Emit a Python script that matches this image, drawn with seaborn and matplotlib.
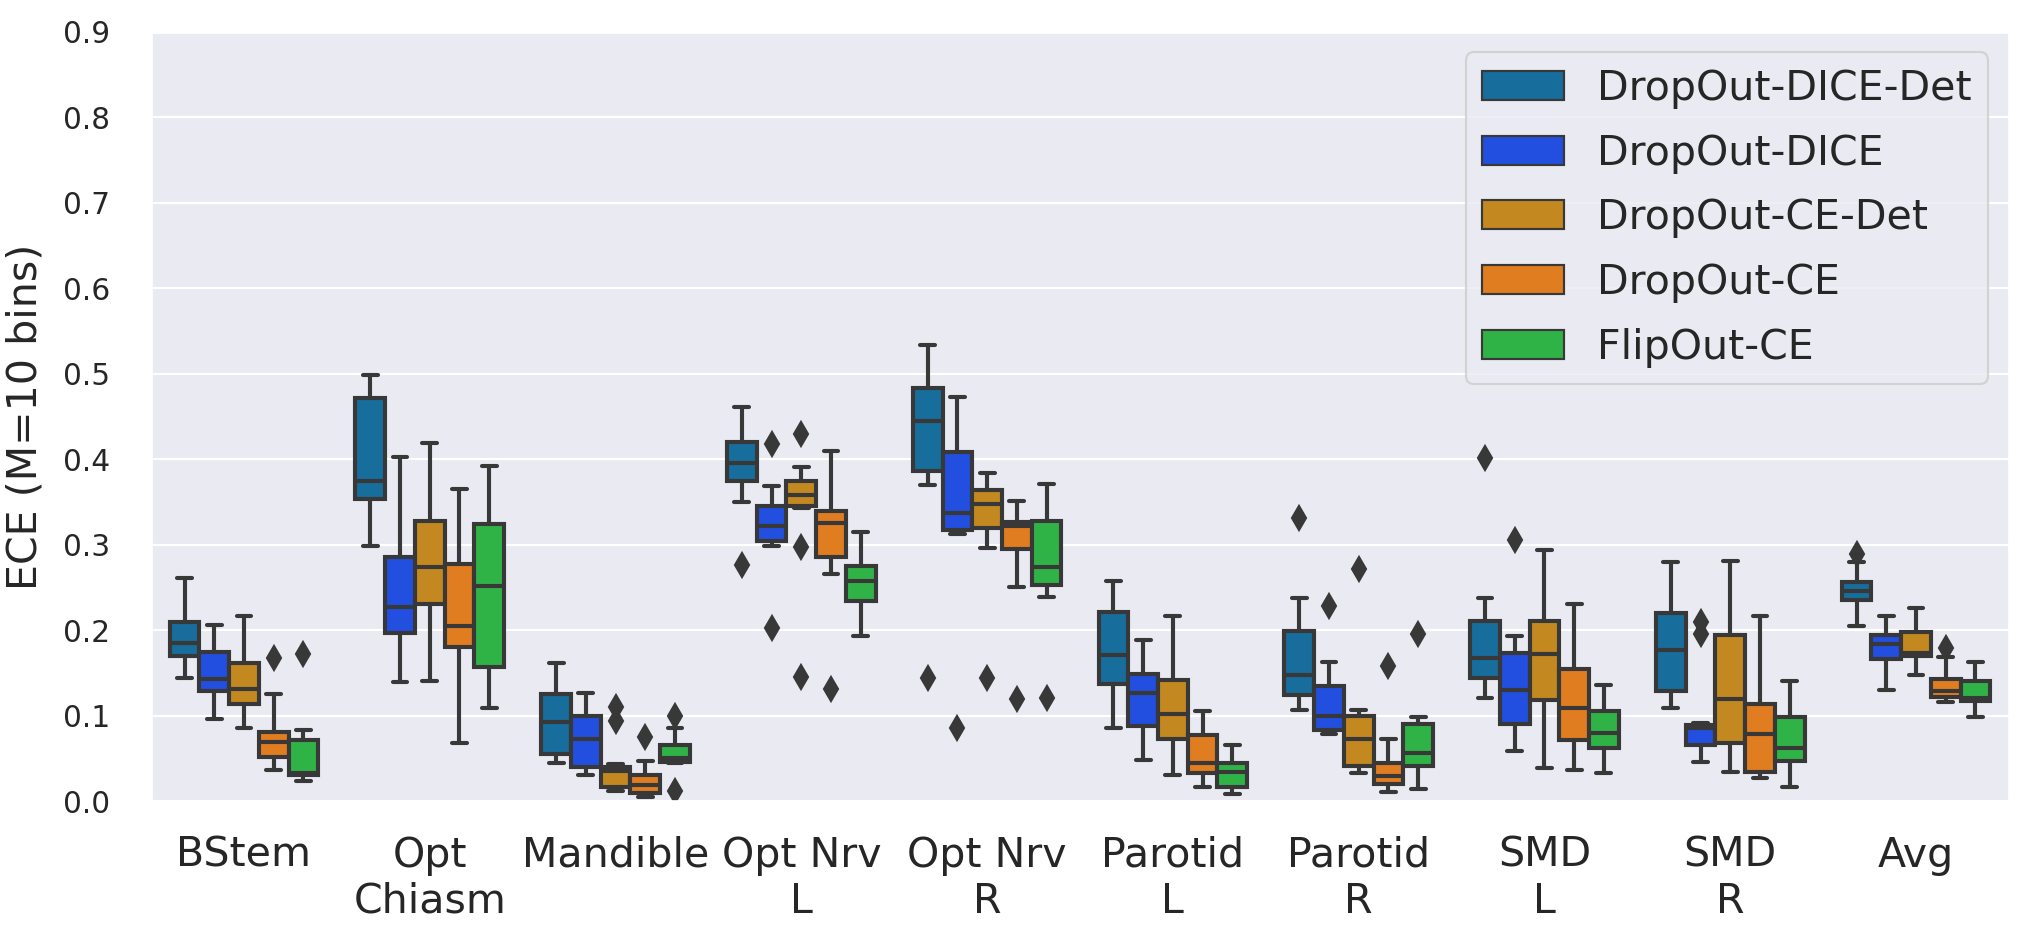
import numpy as np
import pandas as pd
import seaborn as sns
import matplotlib
matplotlib.use("Agg")
import matplotlib.pyplot as plt

organs = ["BStem", "Opt\nChiasm", "Mandible", "Opt Nrv\nL", "Opt Nrv\nR",
          "Parotid\nL", "Parotid\nR", "SMD\nL", "SMD\nR", "Avg"]
methods = ["DropOut-DICE-Det", "DropOut-DICE", "DropOut-CE-Det", "DropOut-CE", "FlipOut-CE"]

# (whisker low, q1, median, q3, whisker high) per organ
dice_det_box = [(.144, .170, .185, .209, .261), (.299, .354, .375, .472, .498), (.044, .055, .093, .125, .162),
                (.350, .375, .396, .420, .461), (.370, .386, .445, .483, .534), (.086, .137, .171, .221, .258),
                (.106, .124, .148, .199, .237), (.121, .144, .167, .211, .238), (.109, .129, .177, .220, .280),
                (.205, .235, .246, .256, .280)]
dice_det_out = [[], [], [], [.276], [.144], [], [.331], [.401], [], [.289]]

dice_box = [(.096, .129, .143, .174, .206), (.139, .197, .227, .286, .403), (.030, .040, .073, .099, .127),
            (.299, .304, .322, .345, .369), (.313, .317, .337, .408, .473), (.048, .088, .126, .149, .188),
            (.078, .083, .100, .135, .163), (.059, .090, .130, .173, .193), (.046, .065, .086, .089, .091),
            (.130, .166, .184, .194, .216)]
dice_out = [[], [], [], [.202, .418], [.086], [], [.228], [.305], [.196, .210], []]

ce_det_box = [(.086, .114, .131, .161, .216), (.141, .231, .274, .328, .419), (.012, .016, .035, .040, .043),
              (.343, .345, .358, .375, .391), (.296, .320, .347, .364, .384), (.030, .073, .102, .142, .216),
              (.033, .041, .073, .100, .107), (.039, .118, .172, .211, .294), (.034, .068, .119, .194, .281),
              (.148, .170, .173, .198, .226)]
ce_det_out = [[], [], [.094, .110], [.145, .297, .430], [.144], [], [.272], [], [], []]

ce_box = [(.036, .051, .069, .081, .125), (.068, .180, .205, .277, .365), (.005, .009, .019, .031, .047),
          (.266, .285, .325, .339, .410), (.251, .295, .322, .327, .351), (.017, .033, .045, .077, .105),
          (.011, .020, .029, .045, .073), (.036, .071, .109, .154, .230), (.027, .034, .078, .114, .216),
          (.116, .122, .129, .143, .169)]
ce_out = [[.167], [], [.075], [.131], [.119], [], [.158], [], [], [.179]]

flip_box = [(.023, .031, .033, .072, .083), (.109, .157, .252, .324, .392), (.045, .046, .050, .066, .086),
            (.193, .234, .257, .275, .315), (.239, .253, .274, .328, .371), (.008, .016, .034, .045, .066),
            (.014, .041, .056, .090, .098), (.033, .062, .080, .105, .136), (.017, .047, .062, .098, .140),
            (.098, .117, .120, .140, .163)]
flip_out = [[.172], [], [.012, .099], [], [.120], [], [.195], [], [], []]

palette = ["#0173b2", "#023eff", "#de8f05", "#ff7c00", "#1ac938"]


def box_points(stats, outs):
    # sample set whose quartiles / whiskers reproduce the read box
    lo, q1, med, q3, hi = stats
    low = sorted(v for v in outs if v < q1)
    high = sorted(v for v in outs if v > q3)
    k = max(len(low), len(high)) + 1
    return (low + [lo] * (k - len(low)) + [q1] * k + [med] * k + [q3]
            + [hi] * (k - len(high)) + high)


rows = []
for method, boxes, outs in zip(methods,
                               [dice_det_box, dice_box, ce_det_box, ce_box, flip_box],
                               [dice_det_out, dice_out, ce_det_out, ce_out, flip_out]):
    for organ, st, ol in zip(organs, boxes, outs):
        for v in box_points(st, ol):
            rows.append({"organ": organ, "method": method, "ece": v})
df = pd.DataFrame(rows)

sns.set_theme(style="darkgrid")
fig, ax = plt.subplots(figsize=(13, 6.013), dpi=156)
fig.subplots_adjust(left=0.0745, right=0.9906, bottom=0.146, top=0.966)

line = "#383838"
sns.boxplot(data=df, x="organ", y="ece", hue="method", order=organs, hue_order=methods,
            palette=palette, saturation=0.75, linewidth=1.9, linecolor=line, width=0.8,
            flierprops=dict(marker="d", markerfacecolor=line, markeredgecolor=line, markersize=8),
            capprops=dict(solid_capstyle="round"), ax=ax)

ax.set_ylim(0, 0.9)
ax.set_yticks(np.arange(0, 0.91, 0.1))
ax.set_xlabel("")
ax.set_ylabel("ECE (M=10 bins)", fontsize=19, labelpad=8)
ax.tick_params(axis="y", labelsize=13.7, pad=13)
ax.tick_params(axis="x", labelsize=19, pad=10)
sns.move_legend(ax, "upper right", title=None, fontsize=19, frameon=True, labelspacing=0.6)
for h in ax.get_legend().legend_handles:
    h.set_linewidth(1.0)

fig.savefig("out.png", dpi=156)
